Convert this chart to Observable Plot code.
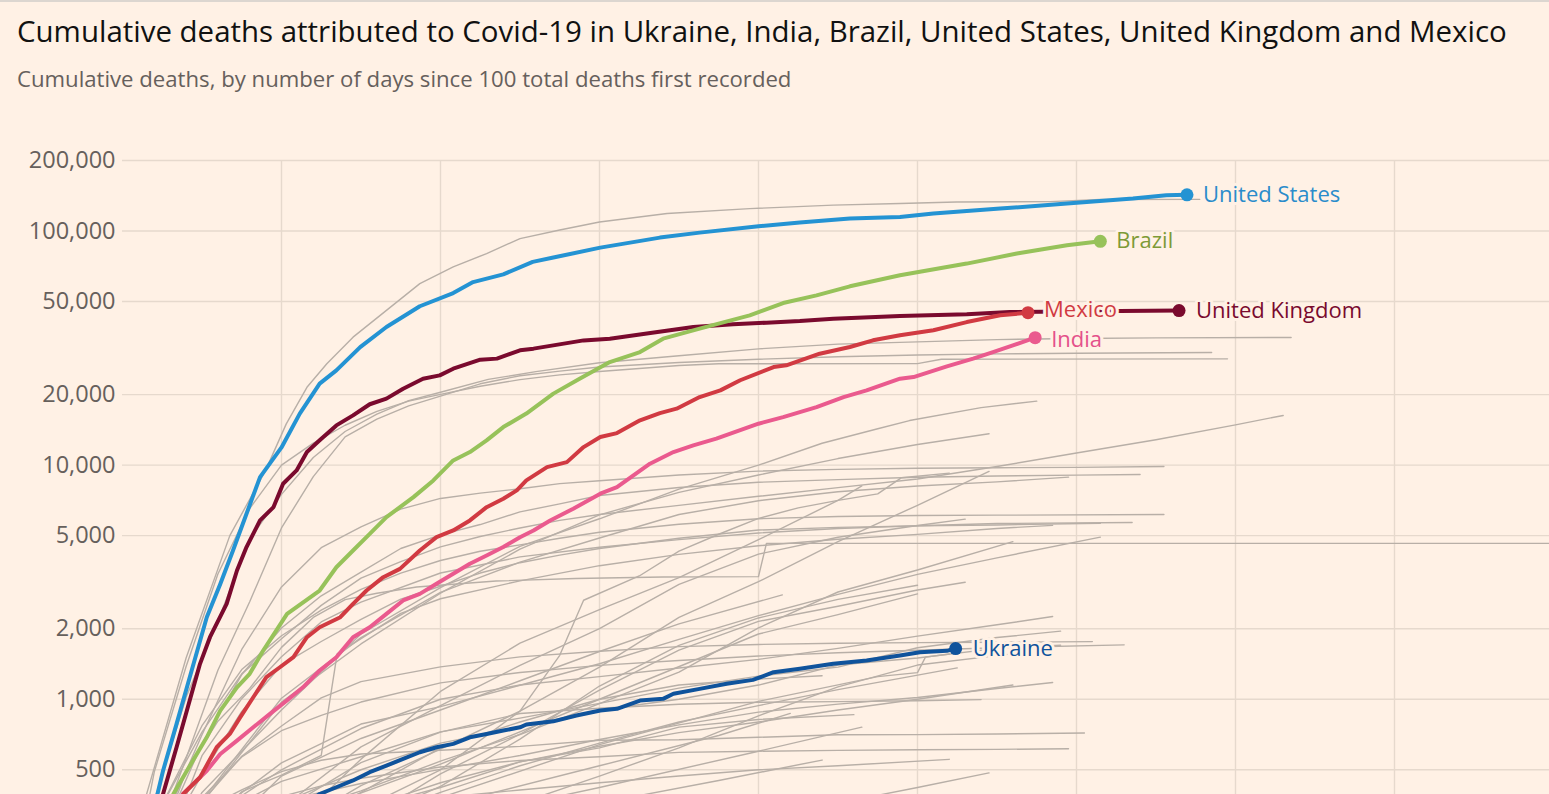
<!DOCTYPE html>
<html>
<head>
<meta charset="utf-8">
<script src="https://cdn.jsdelivr.net/npm/d3@7"></script>
<script src="https://cdn.jsdelivr.net/npm/@observablehq/plot@0.6"></script>
<style>
  html, body { margin: 0; padding: 0; background: #fff1e5; overflow: hidden; }
  body { width: 1549px; height: 794px; position: relative; font-family: "Open Sans", Lato, sans-serif; }
  #topline { position: absolute; left: 0; top: 0; width: 1549px; height: 2px; background: #dcd6d0; }
  #title { position: absolute; left: 17px; top: 17px; font-size: 29px; line-height: 1; color: #111; white-space: nowrap; }
  #subtitle { position: absolute; left: 17px; top: 67px; font-size: 22px; line-height: 1; color: #66605c; white-space: nowrap; }
  #chart { position: absolute; left: 0; top: 98px; }
</style>
</head>
<body>
<div id="topline"></div>
<div id="title">Cumulative deaths attributed to Covid-19 in Ukraine, India, Brazil, United States, United Kingdom and Mexico</div>
<div id="subtitle">Cumulative deaths, by number of days since 100 total deaths first recorded</div>
<div id="chart"></div>
<script>
// ---- tick values ----
const yTicks = [500, 1000, 2000, 5000, 10000, 20000, 50000, 100000, 200000];
const xGridDays = [20, 40, 60, 80, 100, 120, 140, 160];

// ---- highlighted series: [days since 100th death, cumulative deaths] ----
const unitedStates = [[0,100],[4.4,394],[5.1,495],[6.8,785],[8.7,1327],[10.6,2240],[12.3,3110],[13.9,4320],[15.6,6200],[17.3,8890],[20,11900],[22.3,16600],[24.8,22300],[26.9,25400],[29.9,31900],[33.2,38900],[37.4,47700],[41.6,54300],[44.1,60500],[47.9,65300],[51.6,73800],[54.2,77000],[60.1,84900],[67.6,93700],[72.6,98400],[80,104800],[85.2,108600],[91.5,113000],[97.8,114800],[102,118700],[110.4,124600],[118.8,131000],[127.1,137500],[131.3,142100],[133.9,142700]];
const unitedKingdom = [[0,100],[5.1,394],[6.8,624],[8.1,895],[9.75,1417],[11,1841],[13.1,2556],[14.4,3548],[15.6,4466],[17.3,5804],[19,6617],[20.2,8329],[21.9,9494],[23.2,11370],[24.8,12760],[26.9,14780],[29,16310],[31.1,18200],[33.2,19230],[35.3,21210],[37.8,23400],[39.9,24170],[41.6,25820],[45,28200],[47.1,28500],[50,30920],[51.7,31440],[58,34100],[61.3,34680],[66.4,36650],[71.8,38880],[76.8,39920],[81,40600],[85.2,41250],[89.4,42230],[97.8,43350],[106.2,44060],[111.6,45100],[125.5,45500],[132.9,45700]];
const brazil = [[0,100],[6.4,394],[8.1,495],[10.6,688],[12.3,895],[14.4,1125],[16,1284],[17.7,1614],[20.7,2317],[24.8,2914],[26.9,3664],[29,4320],[31.1,5090],[33.2,5995],[36.6,7300],[39.1,8600],[41.6,10470],[43.7,11370],[45.8,12760],[47.9,14540],[50.8,16600],[54.2,20200],[57.5,23400],[61.3,27540],[65.1,30400],[68,34680],[72.6,38280],[78.9,43630],[83.1,49240],[87.3,53090],[91.5,58030],[97.8,64700],[106.2,72570],[112.5,80080],[118.8,86890],[123,90350]];
const mexico = [[0,100],[7.65,394],[9.75,464],[11.85,624],[13.5,711],[14.8,837],[16.45,1020],[18.1,1243],[19.8,1370],[21.5,1512],[23.2,1841],[24.8,2031],[27.4,2241],[29,2557],[30.7,2914],[32.8,3322],[34.9,3606],[37.4,4320],[39.5,4924],[41.6,5260],[43.7,5806],[45.8,6614],[47.9,7185],[49.6,7798],[50.8,8602],[53.4,9806],[55.9,10300],[58,11940],[60.1,13180],[62.2,13700],[65.1,15530],[67.6,16680],[69.7,17420],[72.6,19530],[75.2,20860],[77.7,23040],[81.9,26240],[83.5,26680],[87.7,29920],[91.5,31940],[94.4,34120],[97.8,35890],[102,37650],[106.2,40830],[110.4,43630],[113.9,44770]];
const india = [[0,100],[7.6,394],[10.6,495],[12.3,584],[14.4,666],[16.45,759],[18.55,866],[20.65,987],[22.7,1125],[24.8,1327],[26.9,1512],[29,1841],[31.1,2031],[33.2,2317],[35.3,2642],[37.4,2820],[39.5,3112],[41.6,3436],[43.7,3790],[45.8,4112],[47.9,4467],[50,4924],[51.7,5260],[53.8,5806],[56.7,6513],[60.1,7550],[62.2,8054],[66.35,10140],[69.3,11370],[71.8,12140],[74.7,12970],[80,15030],[83.1,16030],[87.3,17700],[90.7,19530],[93.6,20860],[97.8,23400],[99.5,23770],[103.7,26420],[107,28500],[109.5,30400],[112,32480],[114.8,35030]];
const ukraine = [[0,100],[24.8,394],[26.9,421],[29,450],[31.1,488],[33.2,521],[35.3,556],[37.4,594],[39.5,624],[41.6,645],[43.7,688],[45.8,711],[47.9,735],[50,759],[50.8,780],[54.2,805],[57.1,852],[60.1,895],[62.2,910],[65.1,987],[68,1004],[69.3,1055],[72.6,1108],[76,1164],[79.3,1210],[81.9,1305],[85.2,1349],[89.4,1417],[93.6,1464],[97.8,1538],[100.3,1588],[103.7,1610],[104.8,1647]];

// ---- other countries (grey) ----
const grayA = [[0,100],[3,390],[8,1500],[13.5,5000],[18,9500],[20.6,15000],[23.2,21500],[25.7,27100],[29,35200],[33.2,45800],[37.4,59600],[41.6,70200],[45.8,80100],[50,92800],[55,101000],[60,109300],[68.5,118700],[78.9,124600],[89.4,128900],[97.8,131000],[104.9,133000],[116.7,133500],[123,136200],[135.5,136400]];
const italy = [[0,100],[4,370],[8,1020],[12,2160],[16,4830],[20,7500],[24,10780],[28,13920],[32,16520],[36,18850],[40,20470],[46,23230],[52,25090],[60,27360],[70,29320],[80,31370],[90,32880],[100,33600],[110,34370],[120,34740],[130,34950],[147,35100]];
const spain = [[0,100],[4,490],[8,1380],[12,3430],[16,6530],[20,10000],[24,12420],[28,14800],[32,16970],[36,18760],[40,20040],[45,21720],[50,23190],[55,24280],[60,25100],[70,26620],[75,27100],[100,27130],[103,28320],[139,28440]];
const france = [[0,100],[4,240],[8,560],[12,1330],[16,2610],[20,5390],[24,8930],[28,13200],[32,15730],[36,17920],[40,19720],[45,22250],[50,24090],[55,25200],[60,26230],[70,27430],[80,28330],[90,29020],[100,29550],[110,29860],[120,30030],[137,30250]];
const peru = [[0,100],[10,400],[20,900],[30,1900],[40,3000],[50,4500],[60,5900],[70,7900],[80,10000],[88,12400],[95,14300],[99,15500],[108,17600],[115,18770]];
const iran = [[0,100],[5,354],[10,724],[15,1284],[20,1812],[25,2517],[30,3294],[35,3872],[40,4474],[45,4958],[50,5391],[55,5806],[60,6156],[70,6733],[80,7359],[90,8012],[100,8730],[110,9863],[120,11260],[130,12829],[140,14853],[146,16300]];
const russia = [[0,100],[10,361],[20,972],[30,1723],[40,2837],[50,4374],[60,6134],[70,7650],[80,9073],[90,10667],[100,12247],[109,13620]];
const belgium = [[0,100],[5,289],[10,705],[15,1632],[20,3019],[25,4440],[30,5453],[35,6490],[40,7207],[45,7594],[50,7924],[55,8339],[60,8581],[70,9080],[80,9430],[90,9595],[100,9696],[110,9747],[120,9781],[131,9870]];
const colombia = [[0,100],[10,189],[20,269],[30,428],[40,613],[50,890],[60,1372],[70,2237],[80,3178],[90,4714],[100,6736],[109,9400]];
const germany = [[0,100],[5,267],[10,645],[15,1275],[20,2016],[25,2767],[30,3495],[35,4404],[40,5033],[45,5575],[50,6314],[55,6831],[60,7417],[70,8027],[80,8450],[90,8674],[100,8870],[110,8985],[120,9067],[128,9120]];
const canada = [[0,100],[10,369],[20,1010],[30,1834],[40,2859],[50,3854],[60,4883],[70,6152],[80,7049],[90,7692],[100,8148],[110,8480],[119,8890]];
const chile = [[0,100],[10,160],[20,250],[30,340],[40,500],[50,890],[55,1541],[58,2648],[65,3362],[70,4295],[75,5068],[80,5920],[85,6570],[90,7069],[95,7540],[98,8838],[104,9240]];
const netherlands = [[0,100],[5,356],[10,771],[15,1339],[20,1867],[25,2403],[30,2945],[35,3459],[40,3916],[45,4289],[50,4566],[55,4870],[60,5168],[70,5590],[80,5903],[90,6031],[100,6090],[110,6113],[131,6155]];
const pakistan = [[0,100],[10,201],[20,343],[30,626],[40,939],[50,1395],[60,2002],[70,3093],[80,4167],[90,4922],[100,5522],[106,5880]];
const sweden = [[0,100],[5,240],[10,477],[15,887],[20,1400],[25,1765],[30,2194],[35,2679],[40,3040],[45,3460],[50,3831],[55,4125],[60,4403],[70,4874],[80,5280],[90,5420],[100,5500],[110,5550],[123,5650]];
const turkey = [[0,100],[5,214],[10,574],[15,1006],[20,1518],[25,2140],[30,2600],[40,3461],[50,4055],[60,4461],[70,4807],[80,5131],[90,5361],[100,5508],[110,5630],[127,5690]];
const indonesia = [[0,100],[5,181],[10,280],[15,399],[20,535],[25,647],[30,784],[40,930],[50,1148],[60,1418],[70,1801],[80,2276],[90,2805],[100,3417],[110,4016],[123,4924]];
const egypt = [[0,100],[10,196],[20,317],[30,406],[40,544],[50,707],[60,959],[70,1306],[80,2017],[90,2872],[100,3564],[112,4710]];
const china = [[0,100],[4,213],[8,492],[12,806],[16,1113],[20,1666],[24,2236],[28,2663],[32,2835],[37,3015],[47,3199],[57,3281],[68,3330],[80,3342],[81,4632],[184,4634]];
const ecuador = [[0,100],[5,180],[10,272],[15,403],[20,474],[25,576],[27,1564],[35,2327],[40,2688],[50,3203],[60,3720],[70,4156],[80,4527],[90,4821],[100,5063],[110,5366],[117,5532]];
const southAfrica = [[0,100],[10,170],[20,261],[30,555],[40,1080],[50,1737],[60,2413],[70,3310],[80,4804],[90,7067],[93,8150]];
const bangladesh = [[0,100],[10,168],[20,199],[30,298],[40,480],[50,709],[60,1095],[70,1621],[80,2152],[90,2496],[100,2928],[106,3160]];
const saudiArabia = [[0,100],[10,162],[20,200],[30,300],[40,425],[50,676],[60,1139],[70,1698],[80,2225],[90,2672],[100,3070]];
const argentina = [[0,100],[10,200],[20,300],[40,528],[60,1000],[80,1900],[90,2300],[100,2820]];
const romania = [[0,100],[10,300],[20,500],[30,750],[40,1000],[50,1150],[60,1250],[70,1360],[80,1480],[90,1650],[100,1860],[110,2080],[117,2256]];
const philippines = [[0,100],[10,297],[20,446],[30,568],[40,726],[50,831],[60,960],[70,1116],[80,1255],[90,1372],[100,1660],[110,1835],[118,1954]];
const portugal = [[0,100],[5,187],[10,380],[15,567],[20,734],[25,854],[30,973],[40,1175],[50,1302],[60,1396],[70,1465],[80,1530],[90,1580],[100,1620],[110,1660],[126,1708]];
const ireland = [[0,100],[5,210],[10,365],[15,571],[20,769],[25,1014],[30,1190],[40,1375],[50,1518],[60,1604],[70,1678],[80,1714],[90,1735],[100,1746],[110,1753],[122,1763]];
const grayB = [[0,100],[10,150],[20,220],[30,300],[40,400],[50,520],[60,650],[70,800],[80,940],[90,1100],[99,1250],[105,1362]];
const grayC = [[0,100],[20,200],[40,380],[60,640],[80,980],[95,1250],[100,1300],[101,1514],[104,1560]];
const algeria = [[0,100],[10,256],[20,367],[30,437],[40,502],[50,575],[60,673],[70,777],[80,881],[90,953],[100,1018],[110,1111],[117,1179]];
const japan = [[0,100],[10,171],[20,334],[30,536],[40,724],[50,869],[60,916],[70,952],[80,971],[90,977],[100,985],[108,997]];
const austria = [[0,100],[5,204],[10,337],[15,410],[20,491],[25,549],[30,584],[40,606],[50,629],[60,668],[70,672],[80,688],[90,705],[100,706],[110,711],[121,718]];
const denmark = [[0,100],[5,179],[10,260],[15,321],[20,384],[25,427],[30,460],[40,514],[50,548],[60,568],[70,593],[80,600],[90,605],[100,609],[110,611],[119,615]];
const grayD = [[0,100],[10,180],[20,260],[30,330],[40,380],[50,410],[60,440],[70,470],[80,500],[90,520],[104,554]];
const israel = [[0,100],[10,164],[20,215],[30,239],[40,270],[50,285],[60,298],[70,313],[80,328],[90,360],[100,420],[109,485]];
const poland = [[0,100],[10,200],[20,360],[30,500],[40,650],[50,760],[60,900],[70,1000],[80,1150],[90,1400],[100,1500],[110,1650],[118,1700]];
const dominicanRep = [[0,100],[10,200],[20,260],[30,340],[40,440],[50,540],[60,630],[70,720],[80,800],[90,900],[100,1000],[112,1150]];
const panama = [[0,100],[10,180],[20,230],[30,270],[40,310],[50,360],[60,470],[70,620],[80,850],[90,1130],[100,1400],[113,1580]];
const afghanistan = [[0,100],[10,160],[20,250],[30,400],[40,620],[50,800],[60,1000],[70,1150],[80,1220],[88,1260]];
const nigeria = [[0,100],[10,180],[20,260],[30,340],[40,420],[50,540],[60,620],[70,760],[80,820],[92,860]];
const guatemala = [[0,100],[10,220],[20,470],[30,680],[40,900],[50,1200],[60,1600],[70,2100],[83,2790]];
const grayE = [[0,100],[20,200],[40,300],[60,420],[80,600],[93,760]];
const grayF = [[0,100],[20,220],[40,350],[60,520],[75,700],[84,870]];
const grayG = [[0,100],[20,180],[40,260],[60,360],[75,450],[88,550]];

const grayList = {grayA, italy, spain, france, peru, iran, russia, belgium, colombia, germany, canada, chile,
  netherlands, pakistan, sweden, turkey, indonesia, egypt, china, ecuador, southAfrica, bangladesh, saudiArabia,
  argentina, romania, philippines, portugal, ireland, grayB, grayC, algeria, japan, austria, denmark, grayD,
  israel, poland, dominicanRep, panama, afghanistan, nigeria, guatemala, grayE, grayF, grayG};

const highlights = [
  {name: "Ukraine", data: ukraine, line: "#0f539c", text: "#0f539c", dx: 17, dy: 0},
  {name: "India", data: india, line: "#ea5a8e", text: "#e4508a", dx: 16, dy: 2.5},
  {name: "United Kingdom", data: unitedKingdom, line: "#7a0a2e", text: "#7a0a2e", dx: 17, dy: 0},
  {name: "Mexico", data: mexico, line: "#d13a42", text: "#d13a42", dx: 16, dy: -2.5},
  {name: "Brazil", data: brazil, line: "#97c25a", text: "#7d9a36", dx: 16, dy: 0},
  {name: "United States", data: unitedStates, line: "#2493d3", text: "#2a8ccb", dx: 16, dy: 0}
];

const bg = "#fff1e5";
const grid = "#e6d9cd";

const grayRows = Object.entries(grayList).flatMap(([k, arr]) => arr.map(([day, deaths]) => ({k, day, deaths})));

const marks = [
  Plot.gridY(yTicks, {stroke: grid, strokeOpacity: 1, strokeWidth: 1.4}),
  Plot.gridX(xGridDays, {stroke: grid, strokeOpacity: 1, strokeWidth: 1.4}),
  Plot.axisY(yTicks, {tickFormat: d3.format(","), tickSize: 0, tickPadding: 7, fontSize: 23.5, label: null}),
  Plot.line(grayRows, {x: "day", y: "deaths", z: "k", stroke: "#b8afa7", strokeWidth: 1.4, clip: true})
];
for (const h of highlights) {
  marks.push(Plot.line(h.data, {x: d => d[0], y: d => d[1], stroke: h.line, strokeWidth: 4, clip: true}));
}
for (const h of highlights) {
  const last = h.data[h.data.length - 1];
  marks.push(Plot.dot([last], {x: d => d[0], y: d => d[1], r: 6.5, fill: h.line}));
}
for (const h of highlights) {
  const last = h.data[h.data.length - 1];
  marks.push(Plot.text([last], {x: d => d[0], y: d => d[1], text: () => h.name, fill: h.text,
    dx: h.dx, dy: h.dy, textAnchor: "start", fontSize: 22, stroke: bg, strokeWidth: 6}));
}

const chart = Plot.plot({
  width: 1549,
  height: 696,
  marginTop: 62,
  marginLeft: 122,
  marginRight: 0,
  marginBottom: 0,
  x: {type: "linear", domain: [0, 179.5], axis: null},
  y: {type: "log", domain: [392, 200000], axis: null},
  style: {background: "transparent", fontFamily: "'Open Sans', Lato, sans-serif", color: "#66605c", overflow: "visible"},
  marks
});
document.getElementById("chart").append(chart);

// fit heading widths to the reference layout
function fit(id, target) {
  const el = document.getElementById(id);
  const w = el.getBoundingClientRect().width;
  const fs = parseFloat(getComputedStyle(el).fontSize);
  el.style.fontSize = (fs * target / w).toFixed(2) + "px";
}
fit("title", 1490);
fit("subtitle", 775);
</script>
</body>
</html>
